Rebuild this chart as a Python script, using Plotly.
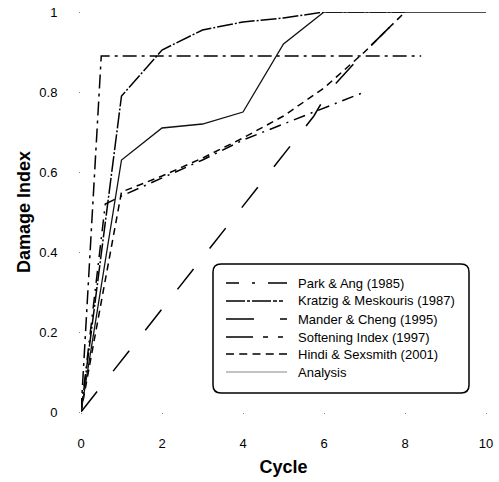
import plotly.graph_objects as go

# Damage index versus loading cycle for several damage models
series_names = [
    "Park & Ang (1985)",
    "Kratzig & Meskouris (1987)",
    "Mander & Cheng (1995)",
    "Softening Index (1997)",
    "Hindi & Sexsmith (2001)",
    "Analysis",
]

park_x = [0, 0.5, 8.4]
park_y = [0, 0.89, 0.89]

kratzig_x = [0, 1, 2, 3, 4, 5, 6, 8]
kratzig_y = [0, 0.79, 0.905, 0.955, 0.975, 0.985, 1.0, 1.0]

mander_x = [0, 5.75, 6.1, 7, 8]
mander_y = [0, 0.74, 0.8, 0.9, 1.0]

softening_x = [0, 0.6, 1, 2, 3, 4, 5, 6, 7]
softening_y = [0, 0.52, 0.54, 0.585, 0.63, 0.68, 0.72, 0.76, 0.8]

hindi_x = [0, 1, 2, 3, 4, 5, 6, 7, 8]
hindi_y = [0, 0.55, 0.59, 0.635, 0.685, 0.74, 0.81, 0.9, 1.0]

analysis_x = [0, 1, 2, 3, 4, 5, 6, 7, 8, 9, 10]
analysis_y = [0, 0.63, 0.71, 0.72, 0.75, 0.92, 1.0, 1.0, 1.0, 1.0, 1.0]

x_ticks = [0, 2, 4, 6, 8, 10]
y_ticks = [0, 0.2, 0.4, 0.6, 0.8, 1]

# line styles for each model (plot lines and legend samples)
plot_dash = [
    "14px,5px,3px,5px",
    "16px,2px,2px,2px",
    "26px,26px",
    "12px,6px,2px,6px",
    "7px,5px",
    "solid",
]
legend_dash = [
    "13px,13px,3px,13px,19px,60px",
    "19px,2px,3px,2px,19px,2px,4px,2px,4px,40px",
    "28px,26px,7px,40px",
    "27px,10px,5px,10px,5px,40px",
    "8px,5.25px",
    "solid",
]
line_w = [1.5, 1.5, 1.5, 1.5, 1.5, 1.3]
line_col = ["black", "black", "black", "black", "black", "#111111"]
legend_col = ["black", "black", "black", "black", "black", "#888888"]

xs = [park_x, kratzig_x, mander_x, softening_x, hindi_x, analysis_x]
ys = [park_y, kratzig_y, mander_y, softening_y, hindi_y, analysis_y]

FONT = "Liberation Sans, Arial, sans-serif"

fig = go.Figure()
for name, x, y, d, w, c in zip(series_names, xs, ys, plot_dash, line_w, line_col):
    fig.add_trace(go.Scatter(
        x=x, y=y, name=name, mode="lines",
        line=dict(color=c, width=w, dash=d),
        cliponaxis=False, showlegend=False,
    ))

W, H = 499, 482
ML, MR, MT, MB = 81, 13, 12, 70
pw, ph = W - ML - MR, H - MT - MB


def px_to_paper(px, py):
    return (px - ML) / pw, (H - MB - py) / ph


# rounded legend frame
bx0, by0 = px_to_paper(213, 393)
bx1, by1 = px_to_paper(469, 264)
rx, ry = 8 / pw, 8 / ph
path = (
    f"M {bx0 + rx},{by1} L {bx1 - rx},{by1} Q {bx1},{by1} {bx1},{by1 - ry} "
    f"L {bx1},{by0 + ry} Q {bx1},{by0} {bx1 - rx},{by0} "
    f"L {bx0 + rx},{by0} Q {bx0},{by0} {bx0},{by0 + ry} "
    f"L {bx0},{by1 - ry} Q {bx0},{by1} {bx0 + rx},{by1} Z"
)
shapes = [dict(type="path", path=path, xref="paper", yref="paper",
               line=dict(color="black", width=1.5), fillcolor="white", layer="above")]
annotations = []
row_y = [283, 301, 319, 337, 354, 372]
for name, ry_px, d, c in zip(series_names, row_y, legend_dash, legend_col):
    x0, yy = px_to_paper(226, ry_px)
    x1, _ = px_to_paper(287, ry_px)
    shapes.append(dict(type="line", xref="paper", yref="paper",
                       x0=x0, x1=x1, y0=yy, y1=yy, layer="above",
                       line=dict(color=c, width=1.5 if c == "black" else 1.2, dash=d)))
    tx, _ = px_to_paper(296, ry_px)
    annotations.append(dict(x=tx, y=yy, xref="paper", yref="paper", text=name,
                            showarrow=False, xanchor="left", yanchor="middle",
                            font=dict(family=FONT, size=13, color="black")))

fig.update_layout(
    template="none",
    width=W, height=H, autosize=False,
    margin=dict(l=ML, r=MR, t=MT, b=MB),
    paper_bgcolor="white", plot_bgcolor="white",
    shapes=shapes, annotations=annotations,
    font=dict(family=FONT, size=13, color="black"),
)
fig.update_xaxes(
    range=[0, 10], tickvals=x_ticks, showgrid=False, zeroline=False, showline=False,
    automargin=False,
    ticks="outside", ticklen=1, tickwidth=1, tickcolor="#888", ticklabelstandoff=18,
    tickfont=dict(family=FONT, size=13),
    title=dict(text="<b>Cycle</b>", font=dict(family=FONT, size=18), standoff=10),
)
fig.update_yaxes(
    range=[0, 1], tickvals=y_ticks, showgrid=False, zeroline=False, showline=False,
    automargin=False,
    ticks="outside", ticklen=1, tickwidth=1, tickcolor="#888", ticklabelstandoff=19,
    tickfont=dict(family=FONT, size=13),
    title=dict(text="<b>Damage Index</b>", font=dict(family=FONT, size=18), standoff=4),
)

fig.write_html("out.html")
